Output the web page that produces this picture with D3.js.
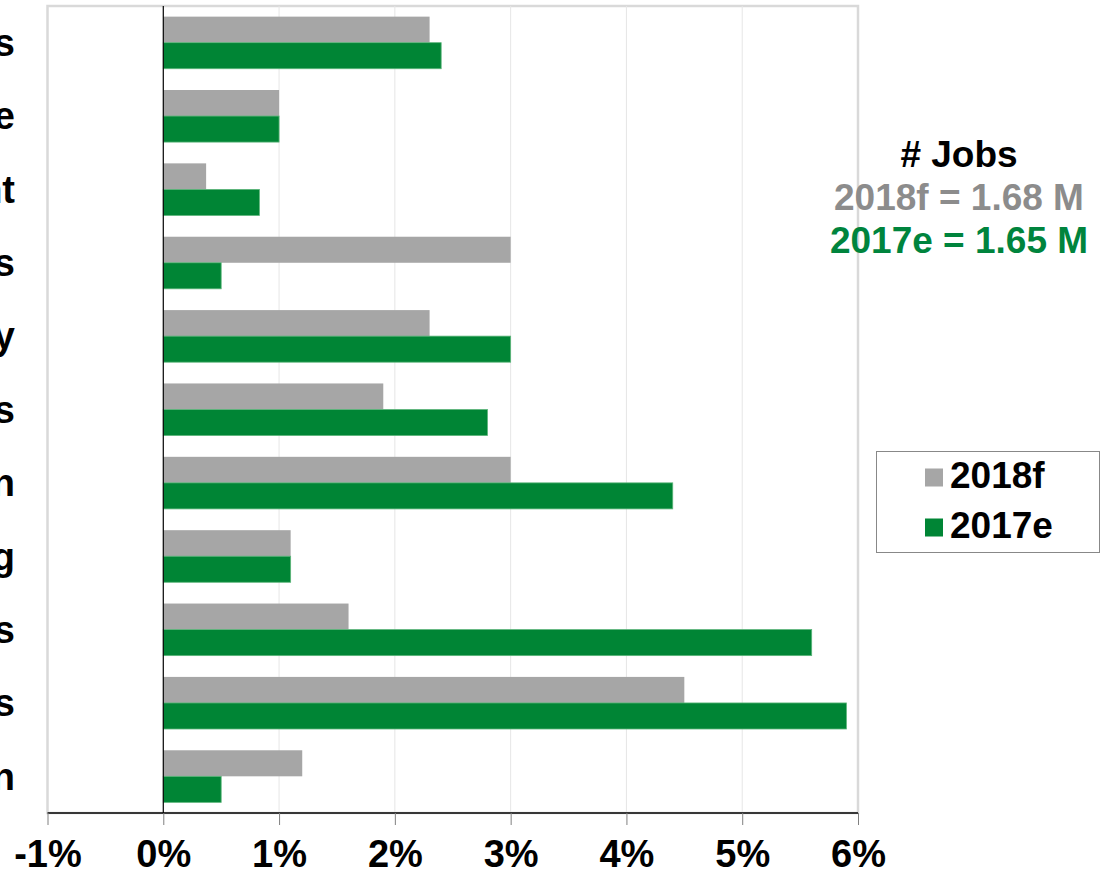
<!DOCTYPE html>
<meta charset="utf-8">
<script src="https://d3js.org/d3.v7.min.js"></script>
<style>
  body { margin: 0; background: #fff; }
  text { font-family: Arial, "Liberation Sans", sans-serif; font-weight: bold; }
</style>
<div id="my_dataviz"></div>
<script>

  // data (growth in jobs, %)
  var categories = ["Professional Services", "Finance, Insurance & Real Estate", "Government",
    "Other Services", "Hospitality", "Trade & Transport Services", "Construction",
    "Manufacturing", "Information & Culture Services", "Health & Education Services", "Natural Resource Extraction"];
  var series = ["2018f", "2017e"];
  var values2018 = [2.3, 1.0, 0.37, 3.0, 2.3, 1.9, 3.0, 1.1, 1.6, 4.5, 1.2];
  var values2017 = [2.4, 1.0, 0.83, 0.5, 3.0, 2.8, 4.4, 1.1, 5.6, 5.9, 0.5];
  var xTicks = [-1, 0, 1, 2, 3, 4, 5, 6];
  var notes = ["# Jobs", "2018f = 1.68 M", "2017e = 1.65 M"];

  var colors = { "2018f": "#a6a6a6", "2017e": "#008535" };

  var W = 1106, H = 874;
  var margin = { top: 6, right: 248, bottom: 61, left: 47.5 },
    width = W - margin.left - margin.right,
    height = H - margin.top - margin.bottom;

  var svg = d3.select("#my_dataviz")
    .append("svg")
    .attr("width", W)
    .attr("height", H)
    .append("g")
    .attr("transform", "translate(" + margin.left + "," + margin.top + ")");

  var x = d3.scaleLinear().domain([-1, 6]).range([0, width]);
  var y = d3.scaleBand().domain(categories).range([0, height]).paddingInner(0.29).paddingOuter(0.145);
  var ySub = d3.scaleBand().domain(series).range([0, y.bandwidth()]);

  // plot area border
  svg.append("rect")
    .attr("x", 0).attr("y", 0)
    .attr("width", width).attr("height", height)
    .style("fill", "none")
    .style("stroke", "#d9d9d9")
    .style("stroke-width", 2.5);

  // gridlines
  svg.append("g")
    .selectAll("line")
    .data(xTicks.filter(function (d) { return d > 0 && d < 6; }))
    .enter()
    .append("line")
    .attr("x1", function (d) { return x(d); })
    .attr("x2", function (d) { return x(d); })
    .attr("y1", 0).attr("y2", height)
    .style("stroke", "#e6e6e6");

  // bars
  var rows = categories.map(function (c, i) {
    return { cat: c, vals: [{ s: "2018f", v: values2018[i] }, { s: "2017e", v: values2017[i] }] };
  });
  var grp = svg.append("g").selectAll("g")
    .data(rows)
    .enter()
    .append("g")
    .attr("transform", function (d) { return "translate(0," + y(d.cat) + ")"; });
  grp.selectAll("rect")
    .data(function (d) { return d.vals; })
    .enter()
    .append("rect")
    .attr("x", x(0))
    .attr("y", function (d) { return ySub(d.s); })
    .attr("width", function (d) { return x(d.v) - x(0); })
    .attr("height", ySub.bandwidth())
    .style("fill", function (d) { return colors[d.s]; })
    .style("stroke", function (d) { return d.s === "2017e" ? "#5cb57a" : "none"; })
    .style("stroke-width", 0.8);

  // zero line
  svg.append("line")
    .attr("x1", x(0)).attr("x2", x(0))
    .attr("y1", 0).attr("y2", height)
    .style("stroke", "#000").style("stroke-width", 1.2);

  // X axis
  var xAxis = svg.append("g")
    .attr("transform", "translate(0," + height + ")")
    .call(d3.axisBottom(x).tickValues(xTicks).tickSize(12).tickPadding(15)
      .tickFormat(function (d) { return d + "%"; }));
  xAxis.select(".domain").style("stroke", "#000").style("stroke-width", 1.5).attr("d", "M0,0H" + width);
  xAxis.selectAll(".tick line").style("stroke", "#808080");
  xAxis.selectAll(".tick text")
    .style("font-size", "38px")
    .style("font-family", "Arial, 'Liberation Sans', sans-serif")
    .style("font-weight", "bold")
    .attr("fill", "#000");

  // category labels (run off the left edge)
  svg.append("g")
    .selectAll("text")
    .data(categories)
    .enter()
    .append("text")
    .attr("x", 15 - margin.left)
    .attr("y", function (d) { return y(d) + y.bandwidth() / 2; })
    .attr("dy", "0.35em")
    .attr("text-anchor", "end")
    .style("font-size", "38px")
    .text(function (d) { return d; });

  // jobs note
  var noteColors = ["#000", "#8c8c8c", "#00843d"];
  svg.append("g")
    .selectAll("text")
    .data(notes)
    .enter()
    .append("text")
    .attr("x", 959 - margin.left)
    .attr("y", function (d, i) { return 167 + i * 43 - margin.top; })
    .attr("text-anchor", "middle")
    .style("font-size", "37px")
    .style("fill", function (d, i) { return noteColors[i]; })
    .text(function (d) { return d; });

  // legend
  var legend = svg.append("g")
    .attr("transform", "translate(" + (876.5 - margin.left) + "," + (451.5 - margin.top) + ")");
  legend.append("rect")
    .attr("width", 223).attr("height", 101)
    .style("fill", "#fff").style("stroke", "#888").style("stroke-width", 1);
  var li = legend.selectAll("g.item")
    .data(series)
    .enter()
    .append("g")
    .attr("transform", function (d, i) { return "translate(48.5," + (17 + i * 50) + ")"; });
  li.append("rect")
    .attr("width", 18).attr("height", 18)
    .style("fill", function (d) { return colors[d]; });
  li.append("text")
    .attr("x", 25).attr("y", 19)
    .style("font-size", "37px")
    .text(function (d) { return d; });

</script>
